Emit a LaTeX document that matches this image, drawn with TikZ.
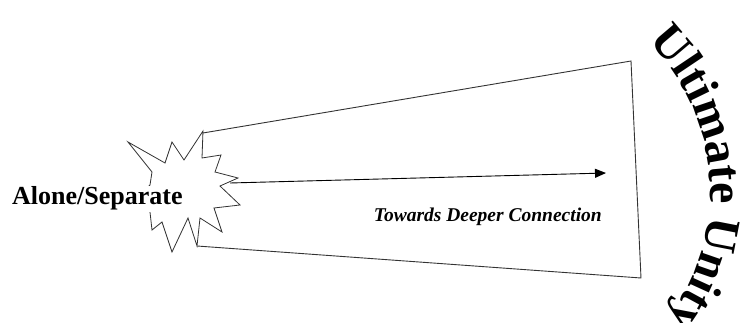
\documentclass[tikz,border=0pt]{standalone}
\usepackage{fontspec}
\setmainfont{Liberation Serif}
\usetikzlibrary{arrows.meta, positioning, decorations.text}
\definecolor{lineink}{HTML}{333333}

\begin{document}
\begin{tikzpicture}[
  x=1pt, y=1pt,
  every node/.style={inner sep=0pt},
  funnel/.style={draw=lineink, line width=0.9pt, line join=miter},
  burst/.style={draw=lineink, line width=0.8pt, fill=white, line join=miter},
  pointer/.style={draw=black, line width=0.9pt, -{Triangle[length=11pt, width=9pt]}},
  tag/.style={font=\fontsize{26}{26}\selectfont\bfseries, fill=white, inner sep=1pt},
  caption/.style={font=\fontsize{19.5}{20}\selectfont\bfseries\itshape},
]
\useasboundingbox (0,0) rectangle (748,-323);

% funnel
\coordinate (ftl) at (203,-133);
\coordinate (ftr) at (631,-61);
\coordinate (fbr) at (641,-278);
\coordinate (fbl) at (197,-246);
\draw[funnel] (ftl) -- (ftr) -- (fbr) -- (fbl);

% burst
\draw[burst] (128,-142) -- (165,-163) -- (172,-142) -- (184,-160) -- (203,-131)
  -- (202,-158) -- (221,-155) -- (215,-172) -- (238,-178) -- (220,-186)
  -- (240,-205) -- (214,-208) -- (222,-232) -- (200,-218) -- (197,-246)
  -- (188,-218) -- (172,-252) -- (162,-222) -- (152,-230) -- (150,-212)
  -- (135,-200) -- (150,-185) -- (152,-172) -- cycle;

% labels
\node[tag, anchor=base west] (alone) at (11,-205) {Alone/Separate};
\node[caption, anchor=base east] (towards) at (602,-222) {Towards Deeper Connection};

% arrow
\coordinate (start) at (230,-183);
\coordinate (goal) at (606,-173);
\draw[pointer] (start) -- (goal);

% curved title
\coordinate (hub) at (497,-192);
\path[decorate, decoration={text along path, text align=left,
  text={|\fontsize{48}{48}\selectfont\bfseries|Ultimate Unity}}]
  ([shift={(45:213pt)}]hub) arc[start angle=45, end angle=-55, radius=213pt];
\end{tikzpicture}
\end{document}
